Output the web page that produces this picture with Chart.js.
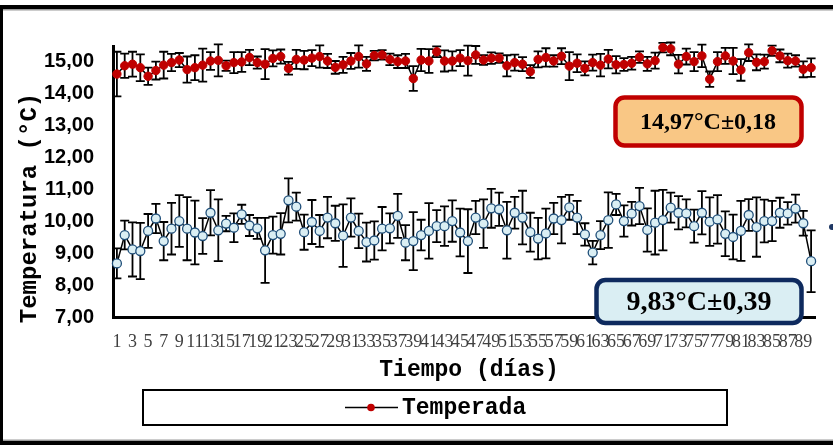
<!DOCTYPE html>
<html><head><meta charset="utf-8">
<script src="https://cdn.jsdelivr.net/npm/chart.js@4.4.1/dist/chart.umd.min.js"></script>
<style>html,body{margin:0;padding:0;background:#fff;}#wrap{width:833px;height:448px;}canvas{display:block;}</style>
</head><body><div id="wrap"><canvas id="c" width="833" height="448"></canvas></div>
<script>
const days = ['1','2','3','4','5','6','7','8','9','10','11','12','13','14','15','16','17','18','19','20',
'21','22','23','24','25','26','27','28','29','30','31','32','33','34','35','36','37','38','39','40',
'41','42','43','44','45','46','47','48','49','50','51','52','53','54','55','56','57','58','59','60',
'61','62','63','64','65','66','67','68','69','70','71','72','73','74','75','76','77','78','79','80',
'81','82','83','84','85','86','87','88','89','90'];
const yTicks = [7,8,9,10,11,12,13,14,15];

const temperada = [14.62,14.88,14.93,14.82,14.55,14.73,14.90,14.98,15.06,14.76,
14.82,14.90,15.03,15.05,14.88,14.98,15.00,15.14,14.98,14.93,
15.11,15.17,14.80,15.08,15.06,15.12,15.17,15.03,14.83,14.91,
15.03,15.17,14.94,15.20,15.22,15.08,15.01,15.03,14.48,15.06,
15.03,15.32,15.03,15.03,15.12,15.04,15.22,15.06,15.12,15.12,
14.88,14.98,14.93,14.70,15.08,15.14,15.03,15.18,14.87,14.96,
14.80,14.98,14.90,15.09,14.91,14.92,14.96,15.15,14.94,15.04,
15.45,15.41,14.93,15.17,15.01,15.19,14.46,15.01,15.19,15.03,
14.75,15.29,14.99,15.01,15.35,15.19,15.04,15.03,14.77,14.82];
const temperadaErr = [0.70,0.38,0.39,0.42,0.27,0.28,0.42,0.27,0.22,0.41,
0.39,0.52,0.28,0.50,0.16,0.33,0.31,0.24,0.19,0.47,
0.25,0.22,0.20,0.30,0.29,0.25,0.35,0.22,0.20,0.25,
0.25,0.35,0.22,0.15,0.15,0.18,0.20,0.22,0.39,0.35,
0.37,0.17,0.33,0.30,0.25,0.47,0.28,0.15,0.18,0.15,
0.33,0.25,0.22,0.20,0.25,0.29,0.18,0.25,0.44,0.28,
0.22,0.25,0.35,0.29,0.27,0.20,0.20,0.18,0.22,0.25,
0.15,0.20,0.29,0.25,0.30,0.35,0.24,0.30,0.25,0.41,
0.34,0.26,0.25,0.22,0.16,0.20,0.22,0.18,0.25,0.29];

const fria = [8.68,9.57,9.12,9.07,9.70,10.09,9.38,9.77,10.01,9.77,
9.65,9.54,10.27,9.72,9.93,9.80,10.22,9.87,9.78,9.09,
9.57,9.61,10.66,10.46,9.66,9.98,9.70,10.12,9.94,9.55,
10.12,9.70,9.35,9.40,9.77,9.78,10.17,9.33,9.38,9.57,
9.70,9.85,9.85,10.01,9.65,9.38,10.12,9.93,10.41,10.38,
9.72,10.27,10.12,9.66,9.46,9.62,10.09,10.04,10.44,10.12,
9.59,9.02,9.57,10.04,10.53,10.01,10.24,10.48,9.73,9.96,
10.04,10.43,10.27,10.25,9.85,10.27,9.99,10.06,9.61,9.51,
9.70,10.20,9.82,10.01,10.01,10.27,10.25,10.40,9.94,8.75];
const friaErr = [0.47,0.45,0.85,0.88,0.53,0.46,0.60,0.81,0.81,0.99,
1.00,0.56,0.71,0.97,0.24,0.45,0.30,0.33,0.33,1.02,
0.58,0.65,0.69,0.44,0.55,0.69,0.50,0.65,0.55,0.98,
0.60,0.54,0.61,0.60,0.68,0.47,0.69,0.55,0.91,0.48,
0.87,0.50,0.62,0.65,0.75,1.00,0.52,0.76,0.61,0.52,
0.89,0.50,0.84,0.61,0.65,0.78,0.49,0.73,0.39,0.52,
0.35,0.37,0.44,0.87,0.33,0.49,0.37,0.57,0.68,1.00,
0.95,0.47,0.52,0.44,0.52,0.68,0.76,0.76,0.70,0.70,
0.94,0.50,0.93,0.67,0.63,0.47,0.35,0.44,0.39,0.97];

const titleY = 'Temperatura (°C)';
const titleX = 'Tiempo (días)';
const legendLabel = 'Temperada';
const boxRed = '14,97°C±0,18';
const boxBlue = '9,83°C±0,39';

const errorBars = {
  id: 'errorBars',
  beforeDatasetsDraw(chart) {
    const ctx = chart.ctx, xs = chart.scales.x, ys = chart.scales.y;
    ctx.save();
    ctx.strokeStyle = '#000';
    ctx.lineWidth = 1.8;
    [[temperada, temperadaErr], [fria, friaErr]].forEach(([vals, errs]) => {
      vals.forEach((v, i) => {
        const px = xs.getPixelForValue(i);
        const t = ys.getPixelForValue(v + errs[i]);
        const b = ys.getPixelForValue(v - errs[i]);
        ctx.beginPath();
        ctx.moveTo(px, t); ctx.lineTo(px, b);
        ctx.moveTo(px - 4.5, t); ctx.lineTo(px + 4.5, t);
        ctx.moveTo(px - 4.5, b); ctx.lineTo(px + 4.5, b);
        ctx.stroke();
      });
    });
    ctx.restore();
  }
};

function roundBox(ctx, x, y, w, h, r, fill, stroke, lw) {
  ctx.beginPath();
  ctx.roundRect(x, y, w, h, r);
  ctx.fillStyle = fill; ctx.fill();
  ctx.lineWidth = lw; ctx.strokeStyle = stroke; ctx.stroke();
}

const decor = {
  id: 'decor',
  afterDraw(chart) {
    const ctx = chart.ctx;
    ctx.save();
    // outer frame
    ctx.fillStyle = '#000';
    ctx.fillRect(0, 5, 833, 4);
    ctx.fillRect(0, 5, 3, 440);
    ctx.fillRect(0, 441, 833, 4);
    ctx.fillStyle = '#9a9a9a';
    ctx.fillRect(3, 9, 830, 1.5);
    ctx.fillRect(3, 439.5, 830, 1.5);

    // axis titles
    ctx.fillStyle = '#000';
    ctx.textAlign = 'center';
    ctx.textBaseline = 'alphabetic';
    ctx.font = 'bold 24px "Liberation Mono", "Courier New", monospace';
    ctx.save();
    ctx.translate(36, 208);
    ctx.rotate(-Math.PI / 2);
    ctx.fillText(titleY, 0, 0);
    ctx.restore();
    ctx.font = 'bold 23px "Liberation Mono", "Courier New", monospace';
    ctx.fillText(titleX, 469, 376);

    // legend
    ctx.lineWidth = 2;
    ctx.strokeStyle = '#000';
    ctx.strokeRect(143, 390, 584, 35);
    ctx.beginPath();
    ctx.lineWidth = 1.5;
    ctx.moveTo(345, 407.5); ctx.lineTo(398, 407.5); ctx.stroke();
    ctx.fillStyle = '#C00000';
    ctx.beginPath(); ctx.arc(371, 407.5, 3.8, 0, Math.PI * 2); ctx.fill();
    ctx.fillStyle = '#000';
    ctx.textAlign = 'left';
    ctx.textBaseline = 'middle';
    ctx.font = 'bold 23px "Liberation Mono", "Courier New", monospace';
    ctx.fillText(legendLabel, 402, 408);

    // annotation boxes
    roundBox(ctx, 615.5, 97.5, 186, 48, 9, '#F9C785', '#C00000', 4.5);
    ctx.fillStyle = '#000';
    ctx.textAlign = 'center';
    ctx.font = 'bold 24px "Liberation Serif", "Times New Roman", serif';
    ctx.fillText(boxRed, 708, 123);

    roundBox(ctx, 596.5, 280, 205, 43, 9, '#DAEEF3', '#0E2A5E', 4.5);
    ctx.fillStyle = '#000';
    ctx.font = 'bold 28px "Liberation Serif", "Times New Roman", serif';
    ctx.fillText(boxBlue, 699, 303);

    // cut-off legend marker of second series
    ctx.fillStyle = '#1F3864';
    ctx.beginPath(); ctx.arc(832, 227, 3, 0, Math.PI * 2); ctx.fill();
    ctx.restore();
  }
};

new Chart(document.getElementById('c'), {
  type: 'line',
  data: {
    labels: days,
    datasets: [
      {
        label: legendLabel,
        data: temperada,
        borderColor: '#000',
        borderWidth: 1.5,
        pointRadius: 4.2,
        pointBackgroundColor: '#C00000',
        pointBorderColor: '#C00000',
        pointBorderWidth: 1,
        tension: 0,
        clip: false
      },
      {
        label: 'Fría',
        data: fria,
        borderColor: '#000',
        borderWidth: 1.5,
        pointRadius: 4.5,
        pointBackgroundColor: '#DAEEF3',
        pointBorderColor: '#1F4E79',
        pointBorderWidth: 1.3,
        tension: 0,
        clip: false
      }
    ]
  },
  options: {
    responsive: false,
    animation: false,
    layout: { padding: { left: 0, right: 18, top: 46, bottom: 0 } },
    plugins: { legend: { display: false }, tooltip: { enabled: false } },
    scales: {
      x: {
        type: 'category',
        offset: true,
        grid: { display: false, drawTicks: false },
        border: { display: true, color: '#000', width: 3 },
        ticks: {
          autoSkip: false,
          maxRotation: 0,
          minRotation: 0,
          padding: 14,
          color: '#404040',
          font: { family: '"Liberation Serif", "Times New Roman", serif', size: 18 },
          callback: function (v, i) { return i % 2 === 0 ? days[i] : ''; }
        },
        afterFit(s) { s.height = 131; }
      },
      y: {
        min: 7,
        max: 15.5,
        grid: { display: false, drawTicks: false },
        border: { display: true, color: '#000', width: 3 },
        afterBuildTicks(s) { s.ticks = yTicks.map(v => ({ value: v })); },
        ticks: {
          padding: 19,
          color: '#000',
          font: { family: '"Liberation Sans", Arial, sans-serif', size: 20, weight: 'bold' },
          callback: function (v) { return v.toFixed(2).replace('.', ','); }
        },
        afterFit(s) { s.width = 113; }
      }
    }
  },
  plugins: [errorBars, decor]
});
</script>
</body></html>
